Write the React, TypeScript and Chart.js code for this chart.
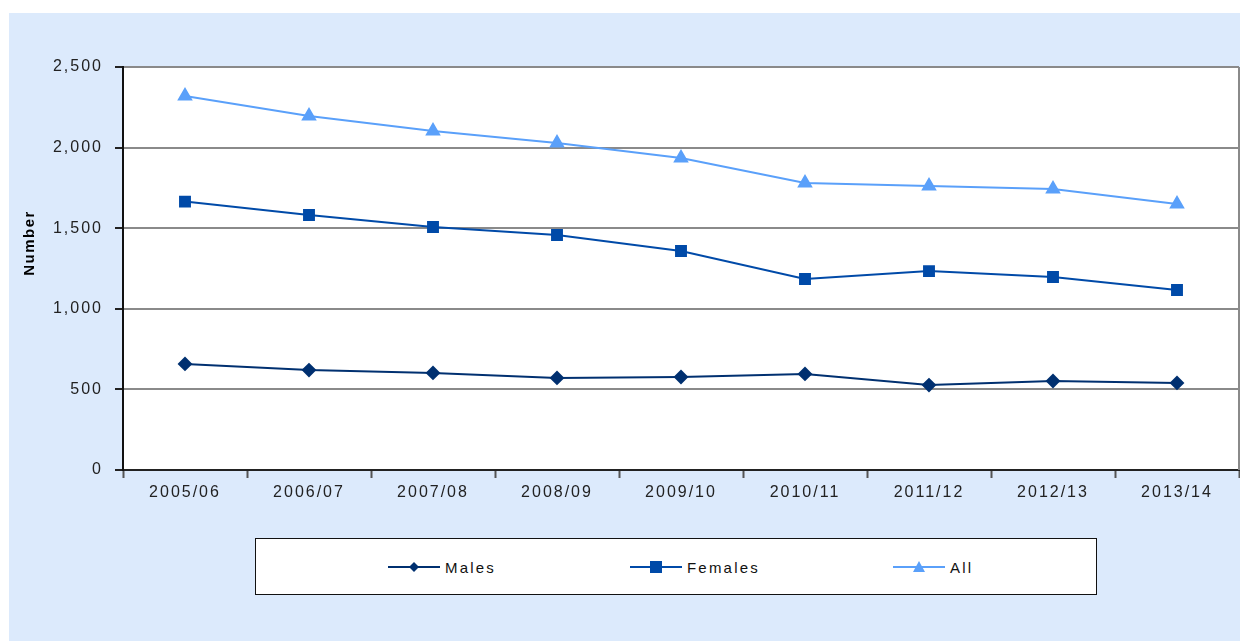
import React, { useEffect, useRef } from "react";
import { Chart, registerables } from "chart.js";

Chart.register(...registerables);

const categories = ["2005/06", "2006/07", "2007/08", "2008/09", "2009/10", "2010/11", "2011/12", "2012/13", "2013/14"];
const males = [658, 620, 602, 571, 577, 596, 527, 552, 540];
const females = [1665, 1582, 1507, 1458, 1359, 1185, 1234, 1197, 1117];
const all = [2320, 2196, 2103, 2028, 1935, 1780, 1762, 1743, 1650];
const yTicks = [0, 500, 1000, 1500, 2000, 2500];
const yTitle = "Number";

const C_MALES = "#003070";
const C_FEMALES = "#004aa8";
const C_ALL = "#5aa0fa";
const FONT = "'Liberation Sans', Arial, sans-serif";

const spacingPlugin = {
  id: "spacing",
  beforeLayout(chart: any) { chart.ctx.letterSpacing = "2px"; },
  beforeDraw(chart: any) { chart.ctx.letterSpacing = "2px"; },
};

const plotPlugin = {
  id: "plotBg",
  beforeDraw(chart: any) {
    const { ctx, chartArea } = chart;
    ctx.save();
    ctx.fillStyle = "#ffffff";
    ctx.fillRect(chartArea.left, chartArea.top, chartArea.right - chartArea.left, chartArea.bottom - chartArea.top);
    ctx.restore();
  },
  afterDraw(chart: any) {
    const { ctx, chartArea } = chart;
    ctx.save();
    ctx.strokeStyle = "#8a8a8a";
    ctx.lineWidth = 2;
    ctx.beginPath();
    ctx.moveTo(chartArea.right, chartArea.top);
    ctx.lineTo(chartArea.right, chartArea.bottom);
    ctx.stroke();
    ctx.translate(chartArea.left - 93, chartArea.top + 176);
    ctx.rotate(-Math.PI / 2);
    ctx.fillStyle = "#000";
    ctx.letterSpacing = "1.5px";
    ctx.font = `bold 15px ${FONT}`;
    ctx.textAlign = "center";
    ctx.textBaseline = "middle";
    ctx.fillText(yTitle, 0, 0);
    ctx.restore();
  },
};

function Icon({ kind, color }: { kind: string; color: string }) {
  let marker: any = null;
  if (kind === "diamond") marker = <polygon points="26,4 31,9 26,14 21,9" fill={color} />;
  if (kind === "square") marker = <rect x="20" y="3" width="12" height="12" fill={color} />;
  if (kind === "triangle") marker = <polygon points="26,3 32,14 20,14" fill={color} />;
  return (
    <svg width="52" height="18" style={{ display: "block" }}>
      <line x1="0" y1="9" x2="52" y2="9" stroke={color} strokeWidth="2" />
      {marker}
    </svg>
  );
}

export default function App() {
  const ref = useRef<HTMLCanvasElement>(null);
  useEffect(() => {
    document.body.style.margin = "0";
    const chart = new Chart(ref.current!, {
      type: "line",
      data: {
        labels: categories,
        datasets: [
          { label: "Males", data: males, borderColor: C_MALES, backgroundColor: C_MALES, borderWidth: 2, pointStyle: "rectRot", pointRadius: 6, pointHoverRadius: 6 },
          { label: "Females", data: females, borderColor: C_FEMALES, backgroundColor: C_FEMALES, borderWidth: 2, pointStyle: "rect", pointRadius: 7, pointHoverRadius: 7 },
          { label: "All", data: all, borderColor: C_ALL, backgroundColor: C_ALL, borderWidth: 2, pointStyle: "triangle", pointRadius: 7, pointHoverRadius: 7 },
        ],
      },
      options: {
        animation: false,
        responsive: false,
        maintainAspectRatio: false,
        layout: { autoPadding: false, padding: { top: 54, right: 1, left: 0, bottom: 0 } },
        plugins: { legend: { display: false }, tooltip: { enabled: false } },
        scales: {
          x: {
            offset: true,
            grid: { offset: true, drawOnChartArea: false, drawTicks: true, tickLength: 8, tickColor: "#555", tickWidth: 2 },
            border: { color: "#222", width: 2 },
            ticks: { color: "#222", font: { family: FONT, size: 16 }, padding: 5, maxRotation: 0 },
            afterFit(scale: any) { scale.height = 40; scale.paddingLeft = 0; scale.paddingRight = 0; },
          },
          y: {
            min: 0,
            max: 2500,
            afterBuildTicks(scale: any) { scale.ticks = yTicks.map((v) => ({ value: v })); },
            grid: { color: "#8a8a8a", lineWidth: 2, tickLength: 8, tickColor: "#222", tickWidth: 2 },
            border: { color: "#111", width: 2 },
            ticks: { color: "#222", font: { family: FONT, size: 16 }, padding: 12, callback: (v: any) => Number(v).toLocaleString("en-US") },
            afterFit(scale: any) { scale.width = 114; },
          },
        },
      },
      plugins: [spacingPlugin, plotPlugin],
    });
    return () => chart.destroy();
  }, []);

  const item = (label: string, kind: string, color: string, left: number) => (
    <div style={{ position: "absolute", left, top: 19, display: "flex", alignItems: "center" }}>
      <Icon kind={kind} color={color} />
      <span style={{ marginLeft: 5, fontFamily: FONT, fontSize: 15, color: "#111", letterSpacing: 2.2 }}>{label}</span>
    </div>
  );

  return (
    <div style={{ position: "relative", width: 1246, height: 641, background: "#ffffff", overflow: "hidden" }}>
      <div style={{ position: "absolute", left: 9, top: 13, width: 1231, height: 628, background: "#dceafc" }}>
        <canvas ref={ref} width={1231} height={497} style={{ position: "absolute", left: 0, top: 0, width: 1231, height: 497 }} />
        <div style={{ position: "absolute", left: 246, top: 525, width: 840, height: 55, background: "#fff", border: "1px solid #111" }}>
          {item("Males", "diamond", C_MALES, 132)}
          {item("Females", "square", C_FEMALES, 374)}
          {item("All", "triangle", C_ALL, 637)}
        </div>
      </div>
    </div>
  );
}
